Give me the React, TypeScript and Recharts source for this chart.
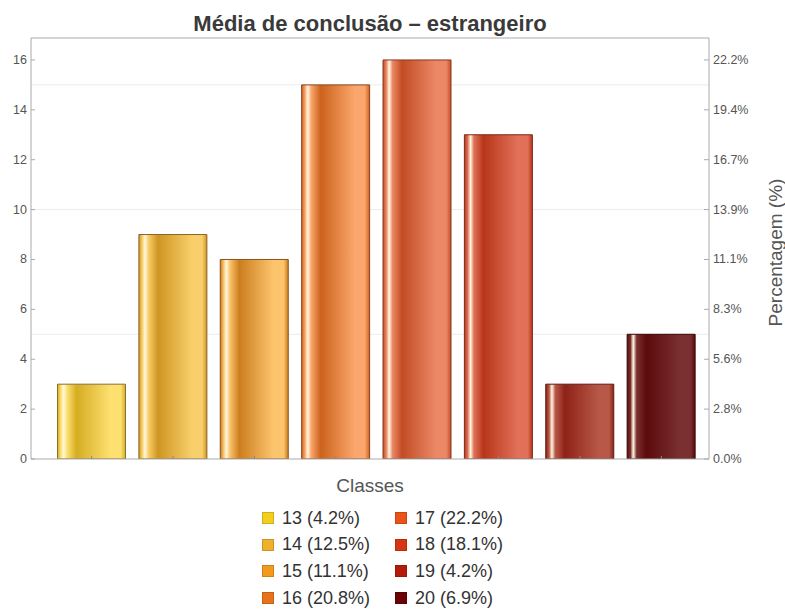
import React from "react";
import {
  Bar,
  BarChart,
  CartesianGrid,
  Cell,
  Line,
  ReferenceLine,
  XAxis,
  YAxis,
} from "recharts";

const classes = ["13", "14", "15", "16", "17", "18", "19", "20"];
const counts = [3, 9, 8, 15, 16, 13, 3, 5];
const leftTicks = [0, 2, 4, 6, 8, 10, 12, 14, 16];
const gridValues = [5, 10, 15];
const yMax = 16.88;

const legendColors = ["#f2cf1e", "#efb02c", "#f29a1c", "#e8711c", "#ea5318", "#d63514", "#b41a0c", "#6a0404"];
const barDark = ["#d6ad22", "#cf9522", "#cc7e1e", "#cc621c", "#c24c24", "#b8361a", "#8f2218", "#5c0a0c"];
const barLight = ["#fde070", "#f8cf6a", "#fcc46c", "#fba66c", "#eb8866", "#e07058", "#b85848", "#7a3030"];
const barEdge = ["#8a7030", "#8a6428", "#8a5220", "#8a4420", "#8a3820", "#7a2a18", "#5a1a10", "#3a0606"];

const total = counts.reduce((a, b) => a + b, 0);
const rightMax = (yMax / total) * 100;
const rightTicks = leftTicks.map((t) => (t / total) * 100);

const data = classes.map((c, i) => ({
  name: c,
  count: counts[i],
  pct: (counts[i] / total) * 100,
}));

const FONT = "'Liberation Sans', Arial, sans-serif";
const AXIS = "#aaaaaa";

function LeftTick({ x, y, payload }: any) {
  return (
    <g>
      <line x1={x} x2={x + 4} y1={y} y2={y} stroke={AXIS} />
      <text x={x - 4} y={y} dy={4} textAnchor="end" fontSize={12.5} fill="#555" fontFamily={FONT}>
        {payload.value}
      </text>
    </g>
  );
}

function RightTick({ x, y, payload }: any) {
  return (
    <g>
      <line x1={x - 5} x2={x} y1={y} y2={y} stroke={AXIS} />
      <text x={x + 4} y={y} dy={4} textAnchor="start" fontSize={12.5} fill="#555" fontFamily={FONT}>
        {payload.value.toFixed(1) + "%"}
      </text>
    </g>
  );
}

function BottomTick({ x, y }: any) {
  return <line x1={x} x2={x} y1={y} y2={y - 3} stroke="#888" />;
}

export default function App() {
  return (
    <div style={{ position: "absolute", left: 0, top: 0, width: 785, height: 610, background: "#fff", fontFamily: FONT }}>
      <div
        style={{
          position: "absolute",
          left: 0,
          top: 13,
          width: 740,
          textAlign: "center",
          fontSize: 22,
          lineHeight: "22px",
          fontWeight: "bold",
          color: "#3a3a3a",
        }}
      >
        Média de conclusão – estrangeiro
      </div>
      <BarChart
        width={785}
        height={610}
        data={data}
        margin={{ top: 38, right: 0, bottom: 111, left: 0 }}
        barCategoryGap="8%"
      >
        <defs>
          {classes.map((c, i) => (
            <linearGradient key={c} id={`g${i}`} x1="0" y1="0" x2="1" y2="0">
              <stop offset="0%" stopColor={barDark[i]} />
              <stop offset="5%" stopColor={barLight[i]} />
              <stop offset="9%" stopColor="#fff6dc" stopOpacity={0.9} />
              <stop offset="14%" stopColor={barLight[i]} />
              <stop offset="28%" stopColor={barDark[i]} />
              <stop offset="78%" stopColor={barLight[i]} />
              <stop offset="93%" stopColor={barLight[i]} />
              <stop offset="100%" stopColor={barDark[i]} />
            </linearGradient>
          ))}
        </defs>
        <CartesianGrid
          yAxisId="left"
          vertical={false}
          horizontalValues={gridValues}
          stroke="#ececec"
        />
        <XAxis
          dataKey="name"
          height={40}
          padding={{ left: 20, right: 7 }}
          axisLine={{ stroke: AXIS }}
          tickLine={false}
          tickSize={0}
          tickMargin={0}
          tick={<BottomTick />}
          label={{ value: "Classes", position: "insideBottom", offset: 7, fontSize: 19, fill: "#555", fontFamily: FONT }}
        />
        <YAxis
          yAxisId="left"
          orientation="left"
          width={31}
          domain={[0, yMax]}
          ticks={leftTicks}
          allowDataOverflow
          axisLine={{ stroke: AXIS }}
          tickLine={false}
          tickSize={0}
          tickMargin={0}
          tick={<LeftTick />}
        />
        <YAxis
          yAxisId="right"
          orientation="right"
          width={76}
          domain={[0, rightMax]}
          ticks={rightTicks}
          allowDataOverflow
          axisLine={{ stroke: AXIS }}
          tickLine={false}
          tickSize={0}
          tickMargin={0}
          tick={<RightTick />}
          label={{
            content: ({ viewBox }: any) => {
              const cx = viewBox.x + 66;
              const cy = viewBox.y + viewBox.height / 2 + 4;
              return (
                <text
                  x={cx}
                  y={cy}
                  transform={`rotate(-90, ${cx}, ${cy})`}
                  textAnchor="middle"
                  dominantBaseline="central"
                  fontSize={19}
                  fill="#555"
                  fontFamily={FONT}
                >
                  Percentagem (%)
                </text>
              );
            },
          }}
        />
        <ReferenceLine yAxisId="left" y={yMax} stroke={AXIS} />
        <Bar yAxisId="left" dataKey="count" isAnimationActive={false}>
          {data.map((d, i) => (
            <Cell key={d.name} fill={`url(#g${i})`} stroke={barEdge[i]} strokeWidth={1} />
          ))}
        </Bar>
        <Line
          yAxisId="right"
          dataKey="pct"
          stroke="none"
          dot={false}
          activeDot={false}
          legendType="none"
          isAnimationActive={false}
        />
      </BarChart>
      {data.map((d, i) => {
        const col = Math.floor(i / 4);
        const row = i % 4;
        return (
          <div
            key={d.name}
            style={{
              position: "absolute",
              left: col === 0 ? 262 : 395,
              top: 518 + row * 26.7 - 10,
              height: 20,
              display: "flex",
              alignItems: "center",
              fontSize: 18,
              color: "#333",
              whiteSpace: "nowrap",
            }}
          >
            <span
              style={{
                display: "inline-block",
                width: 10,
                height: 10,
                background: legendColors[i],
                border: "1px solid rgba(0,0,0,0.15)",
                marginRight: 8,
              }}
            />
            {`${d.name} (${d.pct.toFixed(1)}%)`}
          </div>
        );
      })}
    </div>
  );
}
